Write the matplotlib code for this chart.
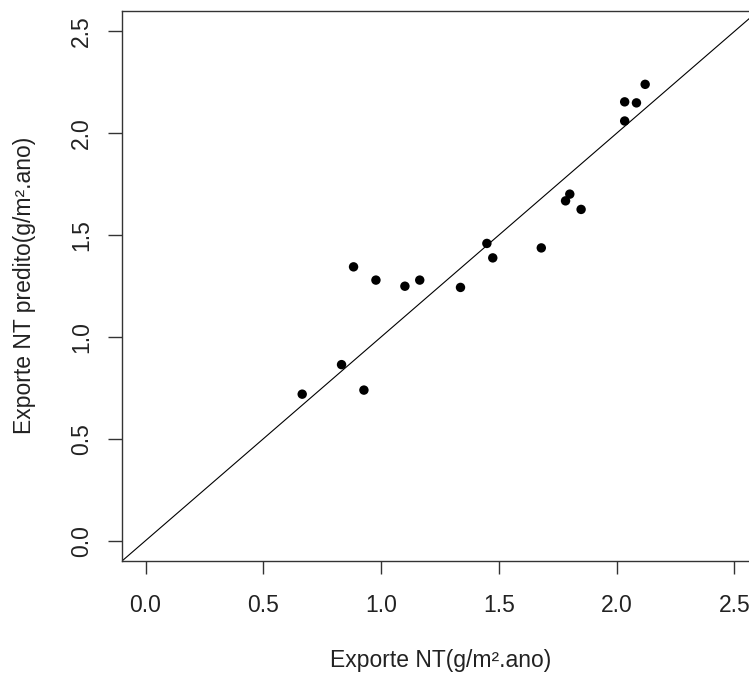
import numpy as np
import matplotlib.pyplot as plt

plt.rcParams['font.family'] = ['Liberation Sans', 'DejaVu Sans']

obs = [0.665, 0.832, 0.883, 0.927, 0.978, 1.101, 1.164, 1.337, 1.449,
       1.474, 1.680, 1.783, 1.801, 1.849, 2.034, 2.034, 2.084, 2.121]
pred = [0.719, 0.864, 1.344, 0.739, 1.279, 1.249, 1.279, 1.243, 1.459,
        1.388, 1.437, 1.668, 1.701, 1.626, 2.060, 2.154, 2.149, 2.240]
ticks = [0.0, 0.5, 1.0, 1.5, 2.0, 2.5]
tick_labels = ['0.0', '0.5', '1.0', '1.5', '2.0', '2.5']

W, H = 749, 675
fs = 16.5
fig = plt.figure(figsize=(W / 100, H / 100), dpi=100)
# axes box extends past the right edge, as in the original
ax = fig.add_axes([122 / W, (H - 561) / H, 636 / W, 550 / H])

ax.scatter(obs, pred, s=46, color='black', edgecolors='none', zorder=3)
ax.axline((0, 0), slope=1, color='black', lw=0.8)

ax.set_xlim(-0.1, 2.6)
ax.set_ylim(-0.1, 2.6)
ax.set_xticks(ticks)
ax.set_xticklabels(tick_labels)
ax.set_yticks(ticks)
ax.set_yticklabels(tick_labels, rotation=90, va='center')

for s in ax.spines.values():
    s.set_color('#333333')
    s.set_linewidth(1.0)
ax.tick_params(axis='x', length=9.5, width=1.0, color='#333333', pad=14,
               labelsize=fs, labelcolor='#222222')
ax.tick_params(axis='y', length=10, width=1.0, color='#333333', pad=11,
               labelsize=fs, labelcolor='#222222')

fig.text(441 / W, 1 - 660 / H, 'Exporte NT(g/m\u00b2.ano)', ha='center', va='center',
         fontsize=fs, color='#222222')
fig.text(25 / W, 1 - 285 / H, 'Exporte NT predito(g/m\u00b2.ano)', ha='center', va='center',
         rotation=90, fontsize=fs, color='#222222')

fig.savefig('out.png', dpi=100)
